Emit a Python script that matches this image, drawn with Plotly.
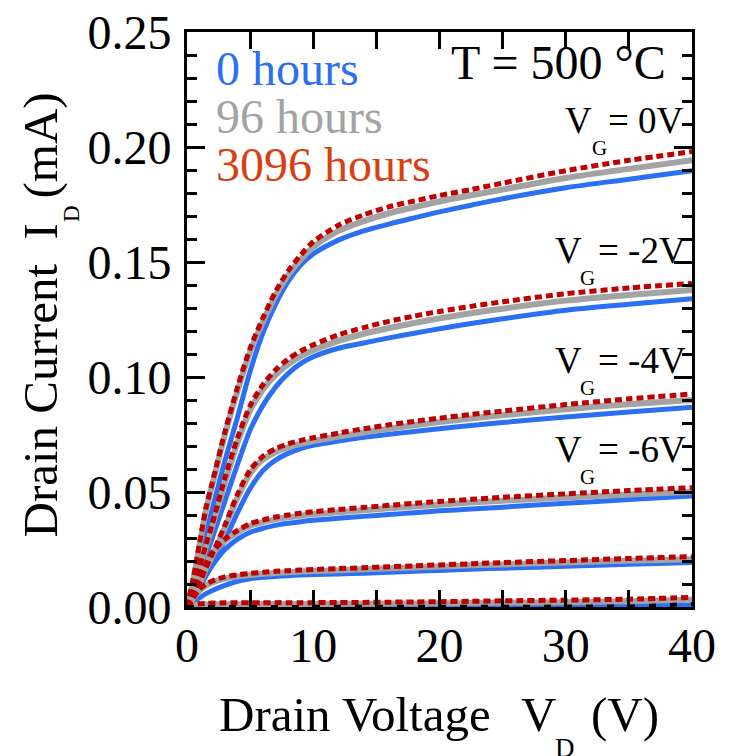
import plotly.graph_objects as go

# ---------------- data ----------------
vd = [0, 0.5, 1, 1.5, 2, 3, 4, 5, 6, 7, 8, 9, 10, 12, 14, 16, 18, 20, 22.5, 25, 30, 35, 40]

# VG = 0 V
vg0_0h    = [0, 0.0105, 0.0215, 0.032, 0.0425, 0.0635, 0.0825, 0.1025, 0.119, 0.1315, 0.1415, 0.1487, 0.1535, 0.1595, 0.1635, 0.1665, 0.1692, 0.1718, 0.1747, 0.1775, 0.1823, 0.186, 0.1897]
vg0_96h   = [0, 0.0118, 0.027, 0.042, 0.053, 0.075, 0.094, 0.111, 0.1238, 0.1352, 0.1442, 0.151, 0.1565, 0.1635, 0.1678, 0.1712, 0.1738, 0.1763, 0.179, 0.1815, 0.1865, 0.1905, 0.1943]
vg0_3096h = [0, 0.0125, 0.028, 0.043, 0.054, 0.076, 0.0955, 0.1125, 0.1255, 0.137, 0.146, 0.153, 0.1588, 0.166, 0.1705, 0.174, 0.1765, 0.1789, 0.1815, 0.1843, 0.1897, 0.1942, 0.198]
# VG = -2 V
vgm2_0h    = [0, 0.006, 0.014, 0.022, 0.030, 0.046, 0.062, 0.077, 0.0875, 0.0955, 0.1015, 0.1058, 0.1088, 0.1125, 0.1148, 0.117, 0.119, 0.121, 0.1233, 0.1253, 0.129, 0.1316, 0.134]
vgm2_96h   = [0, 0.0078, 0.017, 0.026, 0.035, 0.054, 0.0715, 0.0855, 0.0945, 0.1008, 0.1055, 0.109, 0.1116, 0.1157, 0.1188, 0.1213, 0.1235, 0.1255, 0.1277, 0.1297, 0.1332, 0.1357, 0.1378]
vgm2_3096h = [0, 0.008, 0.0175, 0.027, 0.036, 0.056, 0.0735, 0.0875, 0.0965, 0.103, 0.1078, 0.1112, 0.114, 0.1183, 0.1215, 0.1242, 0.1265, 0.1285, 0.1307, 0.1327, 0.1362, 0.1387, 0.1407]
# VG = -4 V
vgm4_0h    = [0, 0.004, 0.009, 0.014, 0.019, 0.029, 0.041, 0.0515, 0.0592, 0.0638, 0.0668, 0.0689, 0.0703, 0.0722, 0.0738, 0.0751, 0.0763, 0.0775, 0.0789, 0.0802, 0.0826, 0.0848, 0.0868]
vgm4_96h   = [0, 0.005, 0.010, 0.0165, 0.0222, 0.0345, 0.0475, 0.058, 0.064, 0.0673, 0.0694, 0.0709, 0.0721, 0.0741, 0.0759, 0.0775, 0.079, 0.0804, 0.082, 0.0834, 0.086, 0.0882, 0.09]
vgm4_3096h = [0, 0.0052, 0.0105, 0.017, 0.023, 0.0355, 0.049, 0.0595, 0.0655, 0.0688, 0.0709, 0.0724, 0.0736, 0.0756, 0.0775, 0.0792, 0.0807, 0.0821, 0.0837, 0.0852, 0.088, 0.0905, 0.0926]
# VG = -6 V
vgm6_0h    = [0, 0.004, 0.0085, 0.0135, 0.018, 0.025, 0.0295, 0.0325, 0.0342, 0.0355, 0.0364, 0.0371, 0.0377, 0.0386, 0.0394, 0.0402, 0.041, 0.0418, 0.0426, 0.0434, 0.0451, 0.0467, 0.0483]
vgm6_96h   = [0, 0.0062, 0.0123, 0.0183, 0.023, 0.0287, 0.0325, 0.0353, 0.0369, 0.0381, 0.039, 0.0397, 0.0403, 0.0412, 0.0421, 0.0429, 0.0437, 0.0445, 0.0454, 0.0462, 0.0476, 0.0489, 0.0501]
vgm6_3096h = [0, 0.0065, 0.0128, 0.019, 0.0238, 0.0295, 0.0333, 0.0362, 0.0378, 0.0391, 0.04, 0.0408, 0.0414, 0.0424, 0.0433, 0.0442, 0.0451, 0.0459, 0.0468, 0.0477, 0.0492, 0.0506, 0.0519]
# VG = -8 V
vgm8_0h    = [0, 0.002, 0.004, 0.0058, 0.0072, 0.0094, 0.0112, 0.0123, 0.0129, 0.0133, 0.0136, 0.0139, 0.0141, 0.0144, 0.0147, 0.0151, 0.0155, 0.0159, 0.0164, 0.0169, 0.0177, 0.0186, 0.0194]
vgm8_96h   = [0, 0.0037, 0.0072, 0.0093, 0.0107, 0.0124, 0.0133, 0.0139, 0.0144, 0.0148, 0.0151, 0.0154, 0.0156, 0.016, 0.0164, 0.0168, 0.0172, 0.0176, 0.0181, 0.0185, 0.0194, 0.0201, 0.0208]
vgm8_3096h = [0, 0.004, 0.0078, 0.0099, 0.0113, 0.0131, 0.014, 0.0146, 0.0151, 0.0155, 0.0158, 0.0161, 0.0163, 0.0167, 0.0171, 0.0175, 0.0179, 0.0183, 0.0188, 0.0193, 0.0202, 0.0211, 0.0219]
# VG = -10 V
vgm10_0h    = [0, 0, 0, 0, 0, 0, 0, 0, 0, 0, 0, 0, 0, 0, 0, 0, 0, 0, 0, 0.0001, 0.0002, 0.0004, 0.0009]
vgm10_96h   = [0, 0.0007, 0.001, 0.0011, 0.0012, 0.0012, 0.0012, 0.0013, 0.0013, 0.0013, 0.0013, 0.0013, 0.0013, 0.0014, 0.0014, 0.0015, 0.0015, 0.0016, 0.0017, 0.0019, 0.0021, 0.0025, 0.0031]
vgm10_3096h = [0, 0.001, 0.0014, 0.0016, 0.0017, 0.0018, 0.0018, 0.0018, 0.0018, 0.0019, 0.0019, 0.0019, 0.0019, 0.002, 0.002, 0.0021, 0.0022, 0.0023, 0.0025, 0.0027, 0.003, 0.0034, 0.0042]
# black dashed trace at the bottom
bottom_black = [0, 0, 0, 0, 0, 0, 0, 0, 0, 0, 0, 0, 0, 0, 0, 0, 0, 0, 0, 0, 0, 0.0002, 0.0013]

series_0h = [vg0_0h, vgm2_0h, vgm4_0h, vgm6_0h, vgm8_0h, vgm10_0h]
series_96h = [vg0_96h, vgm2_96h, vgm4_96h, vgm6_96h, vgm8_96h, vgm10_96h]
series_3096h = [vg0_3096h, vgm2_3096h, vgm4_3096h, vgm6_3096h, vgm8_3096h, vgm10_3096h]

legend_labels = ["0 hours", "96 hours", "3096 hours"]
vg_labels = ["= 0V", "= -2V", "= -4V", "= -6V"]
x_ticks = [0, 10, 20, 30, 40]
y_ticks = [0.00, 0.05, 0.10, 0.15, 0.20, 0.25]

# ---------------- styles ----------------
BLUE = "#2b6ff2"
GRAY = "#a3a3a3"
RED = "#c00000"
LEG_RED = "#d8400f"
FONT = "Liberation Serif, Times New Roman, serif"

OFF = 8                       # page body margin
W, H = 738 - OFF, 756 - OFF
L, R, T, B = 187 - OFF, 692 - OFF, 32 - OFF, 607 - OFF

fig = go.Figure()
for ys in series_0h:
    fig.add_trace(go.Scatter(x=vd, y=ys, mode="lines", line=dict(color=BLUE, width=5, shape="spline", smoothing=0.8), showlegend=False))
for ys in series_96h:
    fig.add_trace(go.Scatter(x=vd, y=ys, mode="lines", line=dict(color=GRAY, width=6, shape="spline", smoothing=0.8), showlegend=False))
for ys in series_3096h:
    fig.add_trace(go.Scatter(x=vd, y=ys, mode="lines", line=dict(color=RED, width=5, dash="7px,4px", shape="spline", smoothing=0.8), showlegend=False))
fig.add_trace(go.Scatter(x=vd, y=bottom_black, mode="lines", line=dict(color="black", width=4, dash="7px,14px"), showlegend=False))


def px(xp):
    return (xp - OFF - L) / (R - L)


def py(yp):
    return (B - (yp - OFF)) / (B - T)


def text_at(text, x_left, baseline, size, color="black", anchor="left"):
    fig.add_annotation(text=text, x=px(x_left), y=py(baseline + 0.116 * size),
                       xref="paper", yref="paper", xanchor=anchor, yanchor="bottom",
                       showarrow=False, borderpad=0, borderwidth=0,
                       font=dict(family=FONT, size=size, color=color))


def vtext_at(text, x_left, y_start, size):
    fig.add_annotation(text=text, x=px(x_left), y=py(y_start), textangle=-90,
                       xref="paper", yref="paper", xanchor="left", yanchor="bottom",
                       showarrow=False, borderpad=0, borderwidth=0,
                       font=dict(family=FONT, size=size, color="black"))


# legend-like labels
text_at(legend_labels[0], 216, 89, 48, BLUE)
text_at(legend_labels[1], 216, 137, 48, GRAY)
text_at(legend_labels[2], 216, 185, 48, LEG_RED)
text_at("T = 500 °C", 451, 83, 48)

# gate voltage labels
vg_pos = [(565, 592, 684, 137), (555, 580, 686, 267), (555, 580, 686, 377), (555, 580, 686, 466)]
for lab, (xv, xg, xr, base) in zip(vg_labels, vg_pos):
    text_at("V", xv, base, 37)
    text_at("G", xg, base + 21, 21)
    text_at(lab, xr, base, 37, anchor="right")

# axis titles
text_at("Drain Voltage", 219, 736, 49)
text_at("V", 521, 736, 49)
text_at("D", 555, 760, 27)
text_at("(V)", 591, 736, 49)

vtext_at("Drain Current  I", 12, 538, 49)
vtext_at("D", 59, 222, 23)
vtext_at("(mA)", 12, 199, 49)

axis_common = dict(showline=True, linewidth=3, linecolor="black", mirror="ticks",
                   ticks="inside", tickwidth=3, tickcolor="black", showgrid=False, zeroline=False,
                   ticklabeloverflow="allow", automargin=False,
                   tickfont=dict(family=FONT, size=48, color="black"))

fig.update_xaxes(range=[0, 40], tickvals=x_ticks, ticklen=17, ticklabelstandoff=-6,
                 minor=dict(dtick=5, ticklen=17, tickwidth=3, ticks="inside", tickcolor="black", showgrid=False),
                 **axis_common)
fig.update_yaxes(range=[0, 0.25], tickvals=y_ticks, tickformat=".2f", ticklen=18, ticklabelstandoff=3,
                 minor=dict(dtick=0.01, ticklen=10, tickwidth=3, ticks="inside", tickcolor="black", showgrid=False),
                 **axis_common)

fig.update_layout(width=W, height=H, margin=dict(l=L, r=W - R, t=T, b=H - B, autoexpand=False),
                  plot_bgcolor="white", paper_bgcolor="white", showlegend=False)

fig.write_html("out.html")
